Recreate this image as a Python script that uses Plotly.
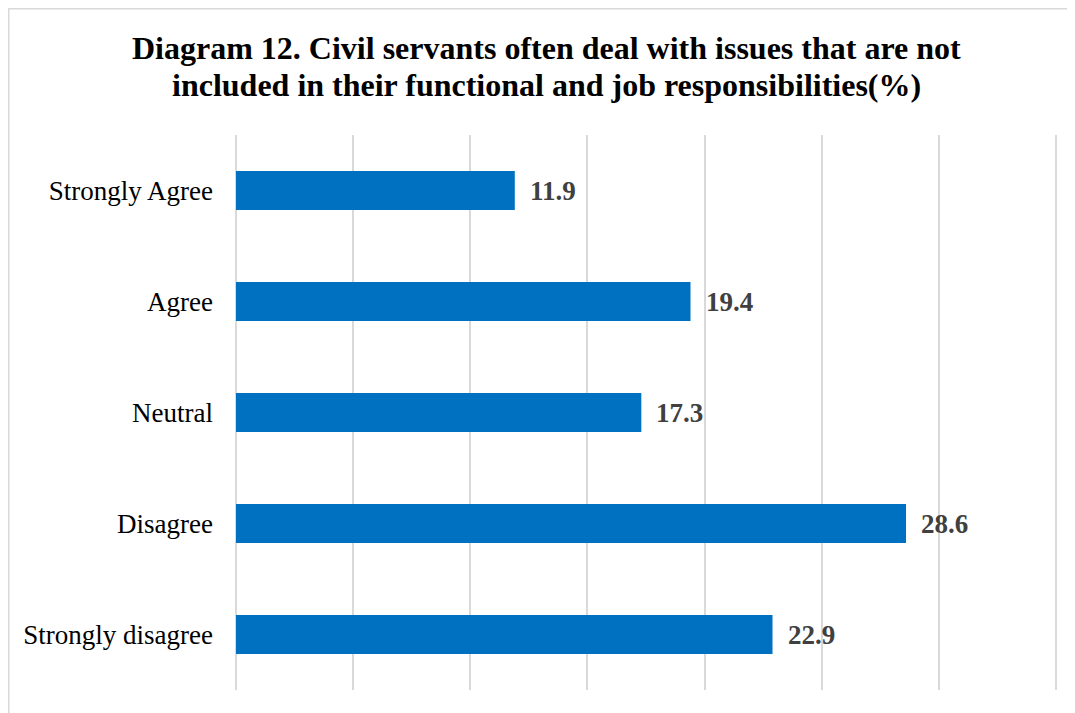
import plotly.graph_objects as go

categories = ["Strongly Agree", "Agree", "Neutral", "Disagree", "Strongly disagree"]
values = [11.9, 19.4, 17.3, 28.6, 22.9]
title_lines = ["Diagram 12. Civil servants often deal with issues that are not",
               "included in their functional and job responsibilities(%)"]

W, H = 1075, 713
L, R, T, B = 228, 20, 127, 31
pw, ph = W - L - R, H - T - B

fig = go.Figure(go.Bar(
    x=values, y=categories, orientation="h",
    marker=dict(color="#0070C0", line=dict(width=0)),
    width=0.35,
))

for c, v in zip(categories, values):
    fig.add_annotation(x=v, y=c, text=f"<b>{v}</b>", showarrow=False,
                       xanchor="left", xshift=13,
                       font=dict(family="Liberation Serif", size=27, color="#404040"))

# title lines (Word-like line spacing)
for i, line in enumerate(title_lines):
    fig.add_annotation(xref="paper", yref="paper",
                       x=(538 - L) / pw, y=(H - B - (40 + 37 * i)) / ph,
                       text=f"<b>{line}</b>", showarrow=False,
                       xanchor="center", yanchor="middle",
                       font=dict(family="Liberation Serif", size=32, color="black"))

# chart border
fig.add_shape(type="rect", xref="paper", yref="paper",
              x0=(0.75 - L) / pw, x1=(W + 40 - L) / pw,
              y0=-(B + 40) / ph, y1=(H - B - 0.75) / ph,
              line=dict(color="#d9d9d9", width=1.5), fillcolor="rgba(0,0,0,0)",
              layer="below")

fig.update_layout(
    width=W, height=H,
    margin=dict(l=L, r=R, t=T, b=B),
    paper_bgcolor="white", plot_bgcolor="white",
    xaxis=dict(range=[0, 35.3], dtick=5, showticklabels=False, showgrid=True,
               gridcolor="#d9d9d9", gridwidth=1.5, zeroline=True,
               zerolinecolor="#d9d9d9", zerolinewidth=1.5,
               showline=False, fixedrange=True),
    yaxis=dict(autorange="reversed", showgrid=False, showline=False,
               ticks="", ticklabelstandoff=22,
               tickfont=dict(family="Liberation Serif", size=27, color="black")),
    showlegend=False,
)

fig.write_html("out.html")
